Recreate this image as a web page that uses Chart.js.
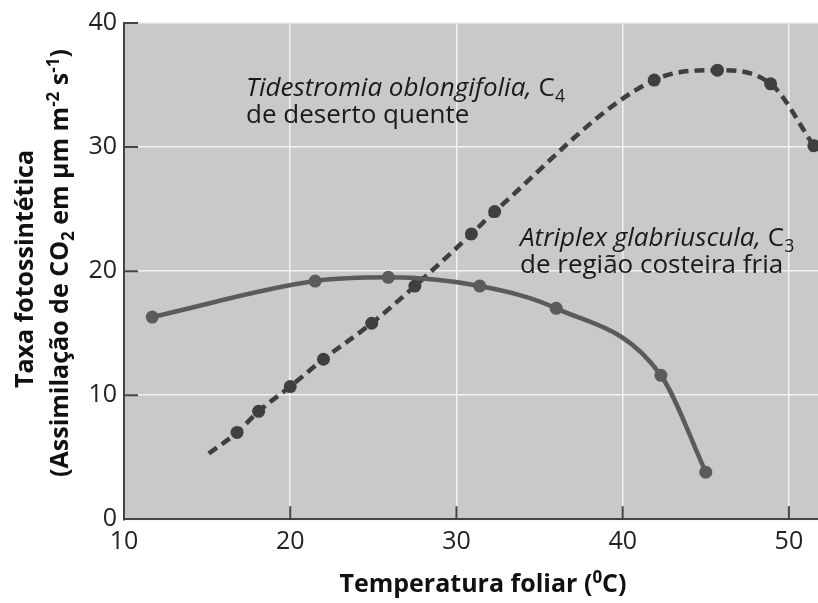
<!DOCTYPE html>
<html>
<head>
<meta charset="utf-8">
<script src="https://cdn.jsdelivr.net/npm/chart.js@4"></script>
<style>
  body { margin: 0; background: #fff; }
  #wrap { width: 818px; height: 603px; position: relative; }
</style>
</head>
<body>
<div id="wrap"><canvas id="myChart"></canvas></div>
<script>
// values
const xTicks = [10, 20, 30, 40, 50];
const yTicks = [0, 10, 20, 30, 40];

const atriplexTemp = [11.7, 21.5, 25.9, 31.4, 36.0, 42.3, 45.0];
const atriplexRate = [16.3, 19.2, 19.5, 18.8, 17.0, 11.6, 3.8];

// first entry is where the fitted dashed line starts (no dot there)
const tidestromiaTemp = [15.1, 16.8, 18.1, 20.0, 22.0, 24.9, 27.5, 30.9, 32.3, 41.9, 45.7, 48.9, 51.5];
const tidestromiaRate = [5.3, 7.0, 8.7, 10.7, 12.9, 15.8, 18.8, 23.0, 24.8, 35.4, 36.2, 35.1, 30.1];

const FONT = '"Open Sans", "Noto Sans", sans-serif';
const axisColor = "#444";

function toPoints(xs, ys) {
    return xs.map((x, i) => ({ x: x, y: ys[i] }));
}

// draw a line of text made of parts (italic / subscript / superscript)
function richText(ctx, parts, x, y, size, weight, align) {
    let w = 0;
    const info = parts.map(p => {
        const s = (p.sub || p.sup) ? size * 0.68 : size;
        const f = (p.italic ? "italic " : "") + weight + " " + s + "px " + FONT;
        ctx.font = f;
        const pw = ctx.measureText(p.t).width;
        w += pw;
        return { f: f, pw: pw, dy: p.sub ? size * 0.24 : (p.sup ? -size * 0.36 : 0) };
    });
    let cx = align === "center" ? x - w / 2 : x;
    ctx.textAlign = "left";
    ctx.textBaseline = "alphabetic";
    parts.forEach((p, i) => {
        ctx.font = info[i].f;
        ctx.fillText(p.t, cx, y + info[i].dy);
        cx += info[i].pw;
    });
}

const figurePlugin = {
    id: "figure",
    beforeDraw(chart) {
        const { ctx, chartArea: a } = chart;
        ctx.save();
        ctx.fillStyle = "#c9c9c9";
        ctx.fillRect(a.left, a.top, a.right - a.left, a.bottom - a.top);
        ctx.restore();
    },
    afterDraw(chart) {
        const { ctx, chartArea: a, scales } = chart;
        ctx.save();
        // tick marks pointing into the plot
        ctx.strokeStyle = axisColor;
        ctx.lineWidth = 2;
        ctx.beginPath();
        xTicks.slice(1).forEach(v => {
            const px = scales.x.getPixelForValue(v);
            ctx.moveTo(px, a.bottom);
            ctx.lineTo(px, a.bottom - 13);
        });
        yTicks.slice(1).forEach(v => {
            const py = scales.y.getPixelForValue(v);
            ctx.moveTo(a.left, py);
            ctx.lineTo(a.left + 14, py);
        });
        ctx.stroke();

        // curve labels
        ctx.fillStyle = "#1a1a1a";
        richText(ctx, [
            { t: "Tidestromia oblongifolia,", italic: true },
            { t: " C" }, { t: "4", sub: true }
        ], 246, 96, 26, "normal", "left");
        richText(ctx, [{ t: "de deserto quente" }], 246, 123, 26, "normal", "left");
        richText(ctx, [
            { t: "Atriplex glabriuscula,", italic: true },
            { t: " C" }, { t: "3", sub: true }
        ], 520, 246, 26, "normal", "left");
        richText(ctx, [{ t: "de região costeira fria" }], 520, 273, 26, "normal", "left");

        // axis titles
        ctx.fillStyle = "#111";
        richText(ctx, [{ t: "Temperatura foliar (" }, { t: "0", sup: true }, { t: "C)" }],
            483, 592, 25, "bold", "center");

        ctx.save();
        ctx.translate(33, 269);
        ctx.rotate(-Math.PI / 2);
        richText(ctx, [{ t: "Taxa fotossintética" }], 0, 0, 25, "bold", "center");
        ctx.restore();
        ctx.save();
        ctx.translate(68, 263);
        ctx.rotate(-Math.PI / 2);
        richText(ctx, [
            { t: "(Assimilação de CO" }, { t: "2", sub: true },
            { t: " em µm m" }, { t: "-2", sup: true },
            { t: " s" }, { t: "-1", sup: true }, { t: ")" }
        ], 0, 0, 25, "bold", "center");
        ctx.restore();
        ctx.restore();
    }
};

new Chart("myChart", {
    type: "scatter",
    data: {
        datasets: [{
            label: "Atriplex glabriuscula",
            data: toPoints(atriplexTemp, atriplexRate),
            showLine: true,
            cubicInterpolationMode: "monotone",
            borderColor: "#5b5b5b",
            borderWidth: 4.5,
            pointRadius: 6.5,
            pointBackgroundColor: "#5b5b5b",
            pointBorderWidth: 0
        }, {
            label: "Tidestromia oblongifolia",
            data: toPoints(tidestromiaTemp, tidestromiaRate),
            showLine: true,
            cubicInterpolationMode: "monotone",
            borderColor: "#3f3f3f",
            borderWidth: 4.5,
            borderDash: [10, 6],
            pointRadius: ctx => ctx.dataIndex === 0 ? 0 : 6.5,
            pointBackgroundColor: "#3f3f3f",
            pointBorderWidth: 0
        }]
    },
    options: {
        responsive: true,
        maintainAspectRatio: false,
        animation: false,
        layout: { autoPadding: false, padding: { top: 23, right: 0, left: 0, bottom: 0 } },
        plugins: {
            legend: { display: false },
            tooltip: { enabled: false }
        },
        scales: {
            x: {
                type: "linear",
                min: 10,
                max: 51.75,
                afterBuildTicks: s => { s.ticks = xTicks.map(v => ({ value: v })); },
                afterFit: s => { s.height = 83.7; s.paddingRight = 0; s.paddingLeft = 0; },
                grid: { color: "#f2f2f2", lineWidth: 1.5, drawTicks: false },
                border: { color: axisColor, width: 2 },
                ticks: {
                    padding: 8,
                    color: "#222",
                    font: { family: FONT, size: 25 }
                }
            },
            y: {
                min: 0,
                max: 40,
                afterBuildTicks: s => { s.ticks = yTicks.map(v => ({ value: v })); },
                afterFit: s => { s.width = 124; },
                grid: { color: "#f2f2f2", lineWidth: 1.5, drawTicks: false },
                border: { color: axisColor, width: 2 },
                ticks: {
                    padding: 7,
                    color: "#222",
                    font: { family: FONT, size: 25 }
                }
            }
        }
    },
    plugins: [figurePlugin]
});
</script>
</body>
</html>
